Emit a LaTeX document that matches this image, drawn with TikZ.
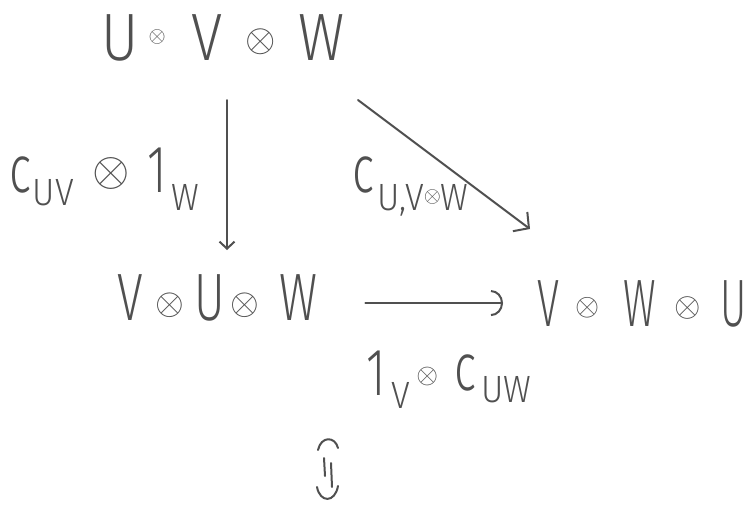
\documentclass[tikz,border=0pt]{standalone}
\usepackage{graphicx}
\usepackage{fontspec}
\setmainfont{Fira Sans Light}[FakeStretch=0.7]
\newfontfamily\topfont{Fira Sans Light}[FakeStretch=0.85]
\newfontfamily\narrowfont{Fira Sans Light}[FakeStretch=0.6]
\newfontfamily\subfont{Fira Sans Light}[FakeStretch=0.9]
\usetikzlibrary{arrows.meta}
\definecolor{ink}{HTML}{505050}
% tensor sign (scale factor of a 10pt one), raised to the middle of the capitals
\newcommand\tens[1][2.8]{\raisebox{\dimexpr0.345em-#1\dimexpr2.5pt\relax\relax}{\scalebox{#1}{\fontsize{10}{10}\selectfont$\otimes$}}}
% lowered index
\newcommand\lowsub[2][15pt]{\raisebox{-#1}{\fontsize{38}{38}\subfont #2}}
% glyph centred on the current point
\newcommand\ctr[1]{\makebox[0pt]{#1}}
\begin{document}
\begin{tikzpicture}[x=1pt,y=1pt,
  every node/.style={inner sep=0pt,text=ink,font=\fontsize{67}{67}\selectfont},
  hand/.style={draw=ink,line width=2pt,line cap=round,line join=round},
  arr/.style={hand,-{Straight Barb[length=7pt,width=15pt,line width=2pt]}},
  bigarr/.style={hand,-{Straight Barb[length=11pt,width=24pt,line width=2pt]}},
  arcarr/.style={hand,-{Arc Barb[length=12pt,width=26pt,line width=2pt]}}]
\useasboundingbox (0,0) rectangle (749,-504);
% objects
\node[anchor=base west,font=\fontsize{67}{67}\topfont] (uvw) at (120,-60)
  {\ctr{U}\hspace{37pt}\ctr{\tens[2.2]}\hspace{50pt}\ctr{V}\hspace{53pt}\ctr{\raisebox{-5pt}{\tens[3.9]}}\hspace{61pt}\ctr{W}};
\node[anchor=base west] (vuw) at (130,-320)
  {\ctr{V}\hspace{40pt}\ctr{\raisebox{-8pt}{\tens[3.7]}}\hspace{40pt}\ctr{U}\hspace{35pt}\ctr{\raisebox{-8pt}{\tens[3.7]}}\hspace{53pt}\ctr{W}};
\node[anchor=base west,font=\fontsize{67}{67}\narrowfont] (vwu) at (548,-326)
  {\ctr{V}\hspace{39pt}\ctr{\raisebox{-5pt}{\tens[3.1]}}\hspace{53pt}\ctr{W}\hspace{48pt}\ctr{\raisebox{-5pt}{\tens[3.4]}}\hspace{45pt}\ctr{U}};
% labels
\node[anchor=base west] (cuv) at (20,-192)
  {\ctr{c}\hspace{33pt}\ctr{\lowsub[13pt]{UV}}\hspace{58pt}\ctr{\raisebox{-5pt}{\tens[4.8]}}\hspace{46pt}\ctr{1}\hspace{28pt}\ctr{\lowsub[18pt]{W}}};
\node[anchor=base west] (cuvw) at (363,-192)
  {\ctr{c}\hspace{60pt}\ctr{\lowsub[18pt]{U,V\tens[2.2]W}}};
\node[anchor=base west] (cvw) at (376,-395)
  {\ctr{1}\hspace{25pt}\ctr{\lowsub[13pt]{V}}\hspace{26pt}\ctr{\raisebox{-5pt}{\tens}}\hspace{38pt}\ctr{\raisebox{5pt}{c}}\hspace{41pt}\ctr{\lowsub[7pt]{UW}}};
% arrows
\coordinate (vtop) at (227,-100);
\coordinate (vbot) at (227,-250);
\coordinate (dtop) at (358,-100);
\coordinate (dbot) at (530,-229);
\draw[arr] (vtop) -- (vbot);
\draw[bigarr] (dtop) -- (dbot);
\draw[arcarr,shorten <=67pt,shorten >=45pt] ([yshift=-2pt]vuw.east) -- ([yshift=-2pt]vuw.east -| vwu.west);
% the sign at the bottom
\draw[hand] (318,-450) .. controls (321,-436) and (335,-436) .. (338,-448);
\draw[hand] (324,-458) -- (325,-476);
\draw[hand] (331,-463) -- (332,-487);
\draw[hand] (317,-487) .. controls (320,-503) and (335,-503) .. (338,-486);
\end{tikzpicture}
\end{document}
